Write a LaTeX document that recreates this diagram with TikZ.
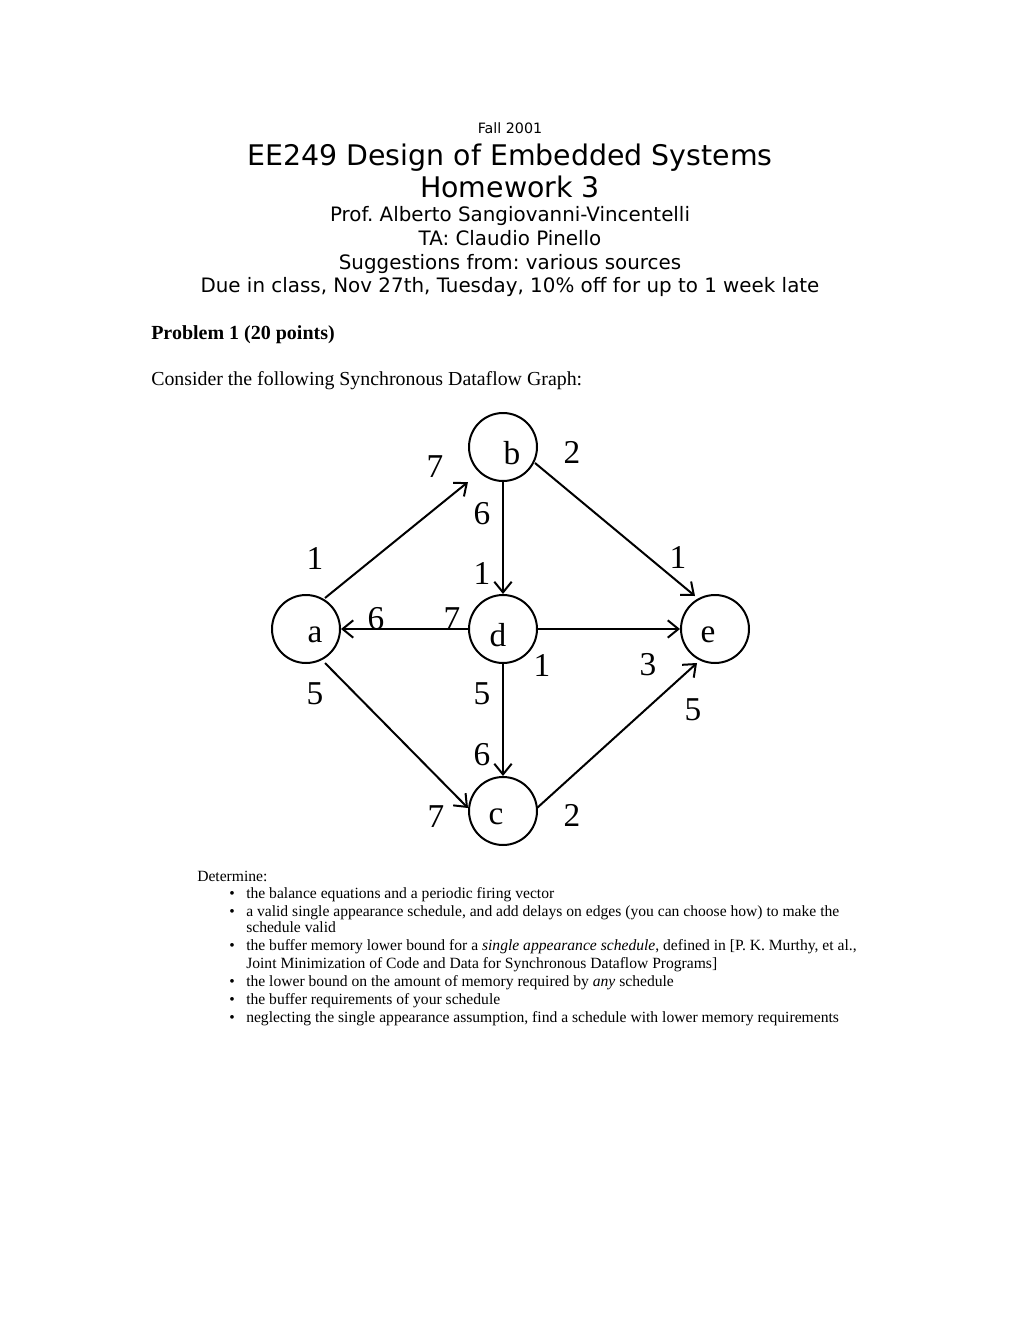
\documentclass[tikz,border=0pt]{standalone}
\usepackage{fontspec}
\setmainfont{Liberation Serif}
\newfontfamily\headfont{DejaVu Sans}
\usetikzlibrary{arrows.meta}
\frenchspacing

\begin{document}
\begin{tikzpicture}[x=0.75pt, y=-0.75pt]
        \tikzstyle{every node}=[inner sep=0pt]
        \tikzstyle{vertex}=[circle, draw, line width=1.5pt, minimum size=51pt]
        \tikzstyle{edge}=[line width=1.5pt, -{Straight Barb[length=8pt, width=13pt, line width=1.5pt]}]
        \tikzstyle{rate}=[font=\fontsize{25}{25}\selectfont]
        \tikzstyle{head}=[anchor=base, font=\headfont]
        \tikzstyle{item}=[anchor=base west, font=\fontsize{11.7}{12}\selectfont]
        \useasboundingbox (0,0) rectangle (1020,1320);
        % header
        \node [head, font=\headfont\fontsize{10.7}{11}\selectfont] (fall) at (510,133) {Fall 2001};
        \node [head, font=\headfont\fontsize{21.3}{22}\selectfont] (title) at (510,165) {EE249 Design of Embedded Systems};
        \node [head, font=\headfont\fontsize{21.3}{22}\selectfont] (hw) at (510,197) {Homework 3};
        \node [head, font=\headfont\fontsize{14.9}{15}\selectfont] (prof) at (510,221) {Prof. Alberto Sangiovanni-Vincentelli};
        \node [head, font=\headfont\fontsize{14.9}{15}\selectfont] (ta) at (510,245) {TA: Claudio Pinello};
        \node [head, font=\headfont\fontsize{14.9}{15}\selectfont] (sugg) at (510,269) {Suggestions from: various sources};
        \node [head, font=\headfont\fontsize{14.9}{15}\selectfont] (due) at (510,292) {Due in class, Nov 27th, Tuesday, 10\% off for up to 1 week late};
        \node [anchor=base west, font=\bfseries\fontsize{15}{15}\selectfont] (prob) at (151,339) {Problem 1 (20 points)};
        \node [anchor=base west, font=\fontsize{14.9}{15}\selectfont] (intro) at (151,385) {Consider the following Synchronous Dataflow Graph:};
        % actors
        \node [vertex, label={[rate, shift={(9,6)}]center:b}] (b) at (503,447) {};
        \node [vertex, label={[rate, shift={(9,6)}]center:a}] (a) at (306,629) {};
        \node [vertex, label={[rate, shift={(-5,6)}]center:d}] (d) at (503,629) {};
        \node [vertex, label={[rate, shift={(-7,6)}]center:e}] (e) at (715,629) {};
        \node [vertex, label={[rate, shift={(-7,6)}]center:c}] (c) at (503,811) {};
        % arcs
        \draw [edge] ([shift={(19,-31)}]a.center) -- ([shift={(-35,35)}]b.center);
        \draw [edge] (b.south) -- (d.north);
        \draw [edge] ([shift={(32,16)}]b.center) -- ([shift={(-20,-33)}]e.center);
        \draw [edge] (d.west) -- (a.east);
        \draw [edge] (d.east) -- (e.west);
        \draw [edge] (d.south) -- (c.north);
        \draw [edge] ([shift={(19,34)}]a.center) -- ([shift={(-35,-3)}]c.center);
        \draw [edge] ([shift={(34,-3)}]c.center) -- ([shift={(-18,34)}]e.center);
        % token rates
        \node [rate] (ab1) at (315,558) {1};
        \node [rate] (ab7) at (435,467) {7};
        \node [rate] (bd6) at (482,514) {6};
        \node [rate] (bd1) at (482,573) {1};
        \node [rate] (be2) at (572,452) {2};
        \node [rate] (be1) at (678,557) {1};
        \node [rate] (da7) at (452,619) {7};
        \node [rate] (da6) at (376,619) {6};
        \node [rate] (de1) at (542,665) {1};
        \node [rate] (de3) at (648,665) {3};
        \node [rate] (dc5) at (482,694) {5};
        \node [rate] (dc6) at (482,755) {6};
        \node [rate] (ac5) at (315,694) {5};
        \node [rate] (ac7) at (436,817) {7};
        \node [rate] (ce2) at (572,815) {2};
        \node [rate] (ce5) at (693,710) {5};
        % questions
        \node [item] (det) at (197,881) {Determine:};
        \foreach \y/\txt/\nm in {898/{the balance equations and a periodic firing vector}/q1,
                916/{a valid single appearance schedule, and add delays on edges (you can choose how) to make the}/q2,
                950/{the buffer memory lower bound for a \textit{single appearance schedule}, defined in [P. K. Murthy, et al.,}/q3,
                986/{the lower bound on the amount of memory required by \textit{any} schedule}/q4,
                1004/{the buffer requirements of your schedule}/q5,
                1022/{neglecting the single appearance assumption, find a schedule with lower memory requirements}/q6}
        {
            \node [item] (\nm) at (246,\y) {\txt};
            \node [item, anchor=base] (\nm b) at (232,\y) {\textbullet};
        }
        \node [item] (q2x) at (246,932) {schedule valid};
        \node [item] (q3x) at (246,968) {Joint Minimization of Code and Data for Synchronous Dataflow Programs]};
    \end{tikzpicture}
\end{document}
